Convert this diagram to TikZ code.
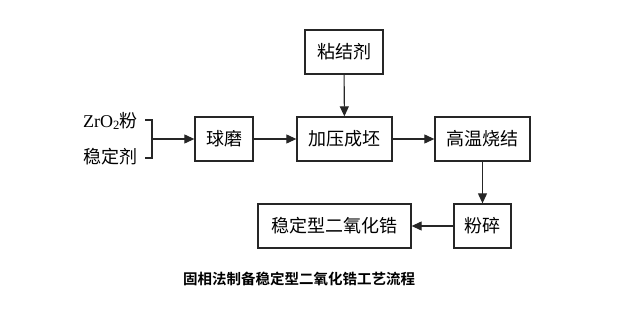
\documentclass[tikz,border=0pt]{standalone}
\usepackage{fontspec}
\setmainfont{Liberation Serif}
\newfontfamily\cjk{Noto Sans CJK SC}
\newfontfamily\cjkb{Noto Sans CJK SC Bold}
\usetikzlibrary{arrows.meta}
\begin{document}
\begin{tikzpicture}[x=1pt,y=-1pt,
  box/.style={draw=black!85,line width=1.3pt,minimum height=44pt,inner sep=0pt,font=\cjk\fontsize{18}{18}\selectfont},
  arr/.style={draw=black!85,line width=1.1pt,-{Triangle[length=10pt,width=9pt]}},
  lbl/.style={inner sep=0pt,font=\fontsize{18}{18}\selectfont}]
\useasboundingbox (0,0) rectangle (619,318);
\node[box,minimum width=78pt] (bind) at (344,52) {粘结剂};
\node[box,minimum width=58pt] (mill) at (224,139) {球磨};
\node[box,minimum width=95pt] (press) at (344.5,139) {加压成坯};
\node[box,minimum width=95pt] (sinter) at (482.5,139) {高温烧结};
\node[box,minimum width=57pt] (crush) at (482.5,226) {粉碎};
\node[box,minimum width=153pt] (prod) at (334.5,226) {稳定型二氧化锆};
\node[lbl,anchor=west] (zr) at (83,121) {ZrO\textsubscript{2}{\cjk 粉}};
\node[lbl,anchor=west,font=\cjk\fontsize{18}{18}\selectfont] (stab) at (83,157) {稳定剂};
\coordinate (b1) at (145,120);
\coordinate (b2) at (152,120);
\coordinate (b3) at (152,158);
\coordinate (b4) at (145,158);
\coordinate (bm) at (152,139);
\draw[draw=black!85,line width=1.3pt] (b1) -- (b2) -- (b3) -- (b4);
\draw[arr] (bm) -- (mill.west);
\draw[arr] (mill) -- (press);
\draw[arr] (bind) -- (press);
\draw[arr] (press) -- (sinter);
\draw[arr] (sinter) -- (crush);
\draw[arr] (crush) -- (prod);
\node[inner sep=0pt,font=\cjkb\fontsize{14.5}{14.5}\selectfont] (cap) at (299,279) {固相法制备稳定型二氧化锆工艺流程};
\end{tikzpicture}
\end{document}
